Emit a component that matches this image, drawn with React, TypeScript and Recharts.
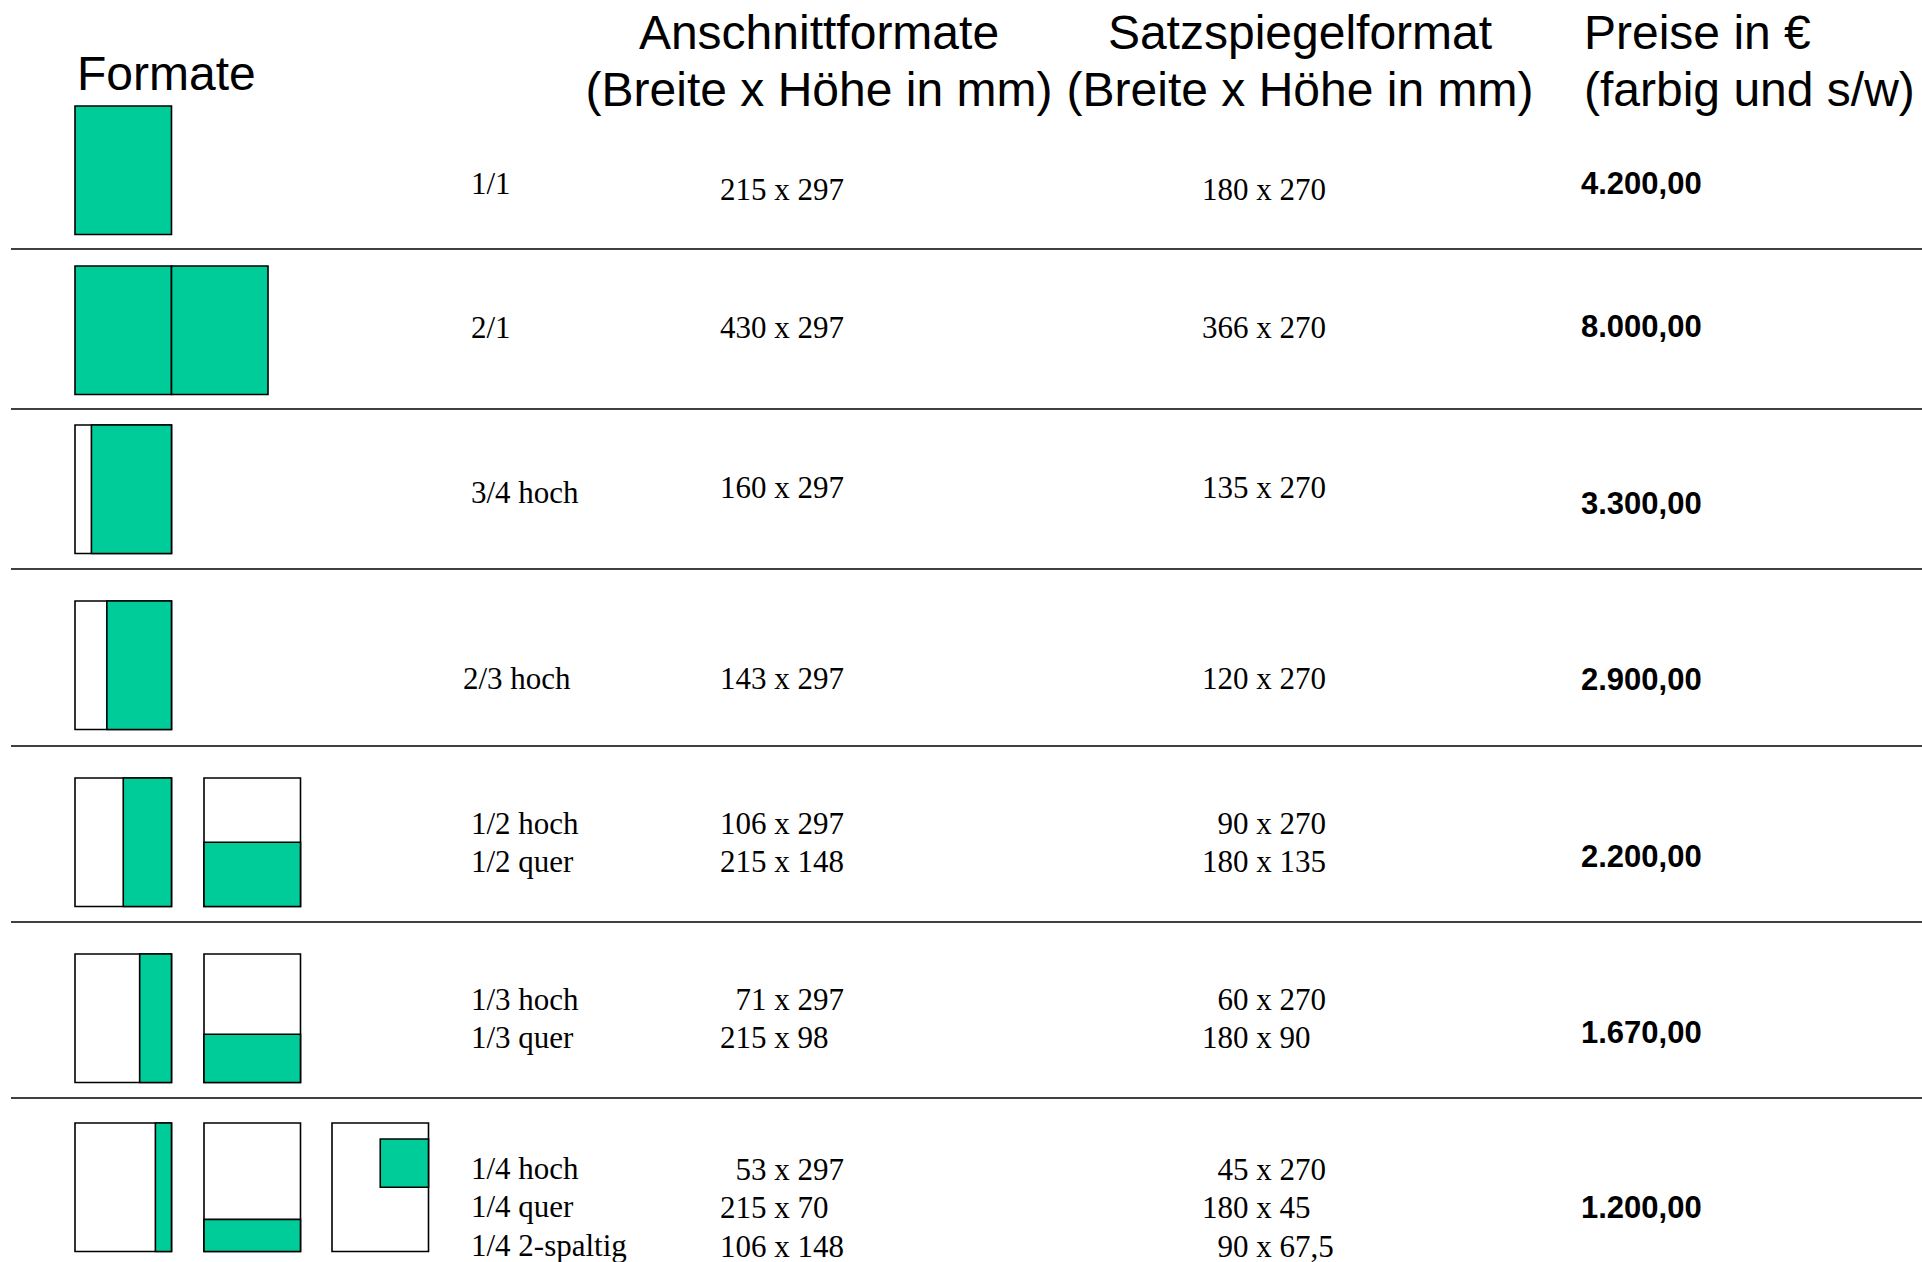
import React from 'react';
import { ComposedChart, XAxis, YAxis, Scatter, ReferenceArea, ReferenceLine } from 'recharts';

// ---------- data ----------
const HEADERS: string[][] = [
  ['Formate'],
  ['Anschnittformate', '(Breite x Höhe in mm)'],
  ['Satzspiegelformat', '(Breite x Höhe in mm)'],
  ['Preise in €', '(farbig und s/w)'],
];

const FORMATS: string[][] = [
  ['1/1'],
  ['2/1'],
  ['3/4 hoch'],
  ['2/3 hoch'],
  ['1/2 hoch', '1/2 quer'],
  ['1/3 hoch', '1/3 quer'],
  ['1/4 hoch', '1/4 quer', '1/4 2-spaltig'],
];

const TRIM_SIZES: string[][] = [
  ['215 x 297'],
  ['430 x 297'],
  ['160 x 297'],
  ['143 x 297'],
  ['106 x 297', '215 x 148'],
  ['71 x 297', '215 x 98'],
  ['53 x 297', '215 x 70', '106 x 148'],
];

const TYPE_AREA_SIZES: string[][] = [
  ['180 x 270'],
  ['366 x 270'],
  ['135 x 270'],
  ['120 x 270'],
  ['90 x 270', '180 x 135'],
  ['60 x 270', '180 x 90'],
  ['45 x 270', '180 x 45', '90 x 67,5'],
];

const PRICES: number[] = [4200, 8000, 3300, 2900, 2200, 1670, 1200];

// share of the page taken by the ad, as drawn in each thumbnail
type Icon = { kind: 'full' | 'spread' | 'hoch' | 'quer' | 'box'; share?: number; from?: number; to?: number };
const ICON_SPECS: Icon[][] = [
  [{ kind: 'full' }],
  [{ kind: 'spread' }],
  [{ kind: 'hoch', share: 0.83 }],
  [{ kind: 'hoch', share: 0.67 }],
  [{ kind: 'hoch', share: 0.5 }, { kind: 'quer', share: 0.5 }],
  [{ kind: 'hoch', share: 0.33 }, { kind: 'quer', share: 0.375 }],
  [{ kind: 'hoch', share: 0.167 }, { kind: 'quer', share: 0.25 }, { kind: 'box', share: 0.5, from: 0.124, to: 0.5 }],
];

// ---------- layout ----------
const W = 1922;
const H = 1262;
const GREEN = '#00CC99';
const SERIF = '"Liberation Serif", "Times New Roman", Times, serif';
const SANS = '"Liberation Sans", Arial, Helvetica, sans-serif';
const RULES_Y = [249, 409, 569, 746, 922, 1098];
const RULE_X0 = 11;
const ICON_TOP = [106, 266, 425, 601, 778, 954, 1123];
const ICON_X = [75, 204, 332];
const ICON_W = 96.5;
const ICON_H = 128.5;
const LABEL_X = [471, 471, 471, 463, 471, 471, 471];
const LABEL_Y = [194, 338, 503, 689, 834, 1010, 1179];
const SIZE_Y = [200, 338, 498, 689, 834, 1010, 1180];
const PRICE_Y = [194, 337, 514, 690, 867, 1043, 1218];
const LINE_GAP = 38.3;
const TRIM_X = 720;
const TYPE_X = 1202;
const PRICE_X = 1581;
const BODY_SIZE = 31;
const HEAD_SIZE = 48;
const HEAD_POS = [
  { x: 77, anchor: 'start', y: [90] },
  { x: 819, anchor: 'middle', y: [49, 106] },
  { x: 1300, anchor: 'middle', y: [49, 106] },
  { x: 1584, anchor: 'start', y: [49, 106] },
];

const formatPrice = (v: number): string => {
  const s = Math.round(v).toString();
  const withDots = s.replace(/\B(?=(\d{3})+(?!\d))/g, '.');
  return withDots + ',00';
};

// ---------- derived point sets ----------
type TextPt = { x: number; y: number; text: string; pad?: number; anchor?: string };

const headerPts: TextPt[] = HEADERS.flatMap((lines, c) =>
  lines.map((t, i) => ({ x: HEAD_POS[c].x, y: HEAD_POS[c].y[i], text: t, anchor: HEAD_POS[c].anchor }))
);

const labelPts: TextPt[] = FORMATS.flatMap((lines, r) =>
  lines.map((t, i) => ({ x: LABEL_X[r], y: LABEL_Y[r] + i * LINE_GAP, text: t }))
);

const padOf = (t: string) => Math.max(0, 3 - t.split(' ')[0].length);

const trimPts: TextPt[] = TRIM_SIZES.flatMap((lines, r) =>
  lines.map((t, i) => ({ x: TRIM_X, y: SIZE_Y[r] + i * LINE_GAP, text: t, pad: padOf(t) }))
);

const typePts: TextPt[] = TYPE_AREA_SIZES.flatMap((lines, r) =>
  lines.map((t, i) => ({ x: TYPE_X, y: SIZE_Y[r] + i * LINE_GAP, text: t, pad: padOf(t) }))
);

const pricePts: TextPt[] = PRICES.map((p, r) => ({ x: PRICE_X, y: PRICE_Y[r], text: formatPrice(p) }));

type Rect = { x1: number; x2: number; y1: number; y2: number; fill: string };
const iconRects: Rect[] = ICON_SPECS.flatMap((icons, r) => {
  const top = ICON_TOP[r];
  const bot = top + ICON_H;
  const out: Rect[] = [];
  icons.forEach((ic, k) => {
    const x = ICON_X[k];
    const xr = x + ICON_W;
    if (ic.kind === 'full') {
      out.push({ x1: x, x2: xr, y1: top, y2: bot, fill: GREEN });
    } else if (ic.kind === 'spread') {
      out.push({ x1: x, x2: xr, y1: top, y2: bot, fill: GREEN });
      out.push({ x1: xr, x2: xr + ICON_W, y1: top, y2: bot, fill: GREEN });
    } else if (ic.kind === 'hoch') {
      out.push({ x1: x, x2: xr, y1: top, y2: bot, fill: '#ffffff' });
      out.push({ x1: xr - ICON_W * (ic.share as number), x2: xr, y1: top, y2: bot, fill: GREEN });
    } else if (ic.kind === 'quer') {
      out.push({ x1: x, x2: xr, y1: top, y2: bot, fill: '#ffffff' });
      out.push({ x1: x, x2: xr, y1: bot - ICON_H * (ic.share as number), y2: bot, fill: GREEN });
    } else {
      out.push({ x1: x, x2: xr, y1: top, y2: bot, fill: '#ffffff' });
      out.push({
        x1: xr - ICON_W * (ic.share as number),
        x2: xr,
        y1: top + ICON_H * (ic.from as number),
        y2: top + ICON_H * (ic.to as number),
        fill: GREEN,
      });
    }
  });
  return out;
});

const makeText = (family: string, size: number, weight: string | number) => (props: any) => {
  const { cx, cy, payload } = props;
  if (cx == null || cy == null) return null;
  const p = payload as TextPt;
  return (
    <text
      x={cx + (p.pad ? p.pad * size * 0.5 : 0)}
      y={cy}
      textAnchor={(p.anchor as any) || 'start'}
      fontFamily={family}
      fontSize={size}
      fontWeight={weight}
      fill="#000"
    >
      {p.text}
    </text>
  );
};

const HeaderShape = makeText(SANS, HEAD_SIZE, 400);
const BodyShape = makeText(SERIF, BODY_SIZE, 400);
const PriceShape = makeText(SANS, BODY_SIZE, 700);

export default function App() {
  return (
    <div style={{ position: 'absolute', left: 0, top: 0, width: W, height: H, background: '#fff' }}>
      <ComposedChart width={W} height={H} margin={{ top: 0, right: 0, bottom: 0, left: 0 }}>
        <XAxis type="number" dataKey="x" domain={[0, W]} hide allowDataOverflow />
        <YAxis type="number" dataKey="y" domain={[0, H]} reversed hide allowDataOverflow />
        {RULES_Y.map((y, i) => (
          <ReferenceLine
            key={'rule' + i}
            segment={[{ x: RULE_X0, y }, { x: W, y }]}
            stroke="#000"
            strokeWidth={1.6}
            ifOverflow="visible"
          />
        ))}
        {iconRects.map((r, i) => (
          <ReferenceArea
            key={'icon' + i}
            x1={r.x1}
            x2={r.x2}
            y1={r.y1}
            y2={r.y2}
            fill={r.fill}
            fillOpacity={1}
            stroke="#000"
            strokeWidth={1.6}
            ifOverflow="visible"
          />
        ))}
        <Scatter data={headerPts} shape={HeaderShape} isAnimationActive={false} />
        <Scatter data={labelPts} shape={BodyShape} isAnimationActive={false} />
        <Scatter data={trimPts} shape={BodyShape} isAnimationActive={false} />
        <Scatter data={typePts} shape={BodyShape} isAnimationActive={false} />
        <Scatter data={pricePts} shape={PriceShape} isAnimationActive={false} />
      </ComposedChart>
    </div>
  );
}
